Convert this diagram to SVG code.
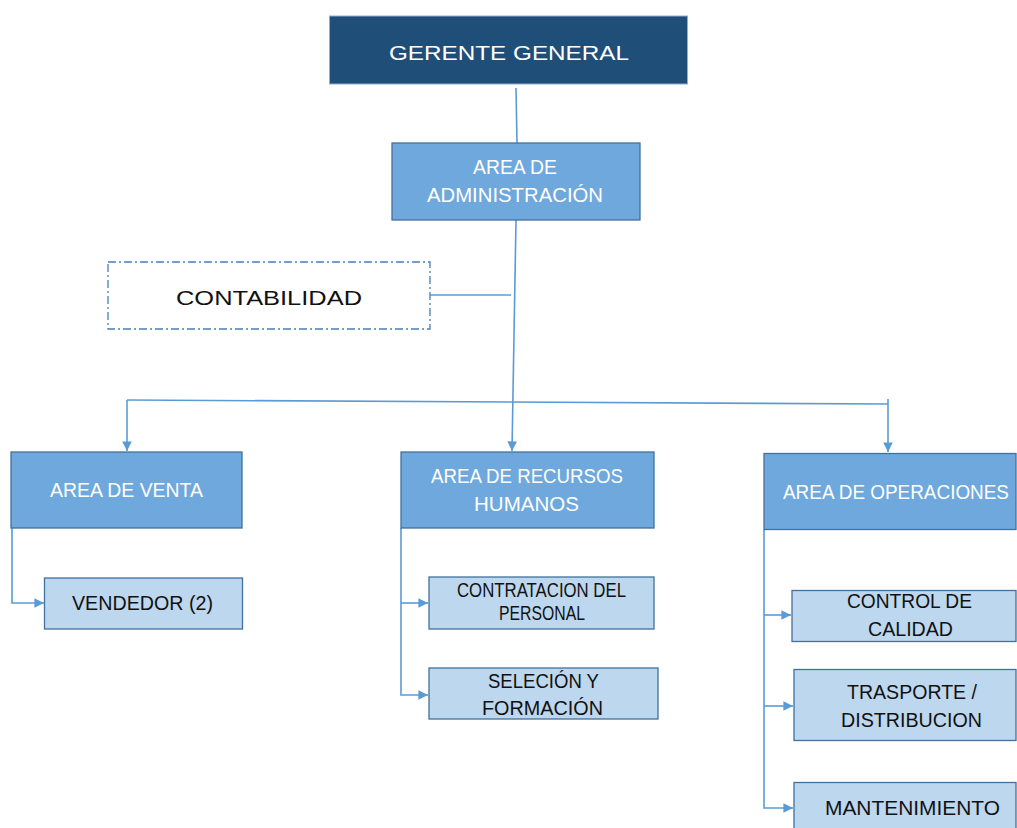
<svg xmlns="http://www.w3.org/2000/svg" width="1017" height="828" viewBox="0 0 1017 828">
<style>
.ln{fill:none;stroke:#5B9BD5;stroke-width:1.6}
.dark{fill:#1F4E79;stroke:#8FAFD0;stroke-width:1}
.mid{fill:#6FA8DC;stroke:#41719C;stroke-width:1.3}
.lt{fill:#BDD7EE;stroke:#41719C;stroke-width:1.3}
.dash{fill:#fff;stroke:#4A7EB5;stroke-width:1.3;stroke-dasharray:8 3 2 3}
text{font-family:"Liberation Sans",Arial,sans-serif;text-anchor:middle}
.w{fill:#fff;font-size:20px}
.k{fill:#111;font-size:20px}
</style>
<defs>
<marker id="ar" viewBox="0 0 10 10" refX="10" refY="5" markerWidth="6" markerHeight="6" markerUnits="strokeWidth" orient="auto">
<path d="M0,0 L10,5 L0,10 z" fill="#5B9BD5"/>
</marker>
</defs>
<rect width="1017" height="828" fill="#fff"/>
<g id="connectors">
<line class="ln" x1="516" y1="88" x2="517" y2="143"/>
<line class="ln" x1="516" y1="220" x2="512" y2="451" marker-end="url(#ar)"/>
<line class="ln" x1="430" y1="295" x2="511" y2="295"/>
<line class="ln" x1="127" y1="400" x2="888" y2="404"/>
<line class="ln" x1="127" y1="400" x2="127" y2="451" marker-end="url(#ar)"/>
<line class="ln" x1="888" y1="399" x2="888" y2="452" marker-end="url(#ar)"/>
<polyline class="ln" points="12,528 12,603 44,603" marker-end="url(#ar)"/>
<polyline class="ln" points="401,528 401,695 428,695" marker-end="url(#ar)"/>
<line class="ln" x1="401" y1="603" x2="428" y2="603" marker-end="url(#ar)"/>
<polyline class="ln" points="764,530 764,808 793,808" marker-end="url(#ar)"/>
<line class="ln" x1="764" y1="615" x2="791" y2="615" marker-end="url(#ar)"/>
<line class="ln" x1="764" y1="706" x2="793" y2="706" marker-end="url(#ar)"/>
</g>
<g id="gerente">
<rect class="dark" x="329.5" y="16" width="358" height="68"/>
<text class="w" x="509" y="60" font-size="28" textLength="240" lengthAdjust="spacingAndGlyphs">GERENTE GENERAL</text>
</g>
<g id="administracion">
<rect class="mid" x="392" y="143" width="248" height="77"/>
<text class="w" x="515" y="174" textLength="84" lengthAdjust="spacingAndGlyphs">AREA DE</text>
<text class="w" x="515" y="202" textLength="176" lengthAdjust="spacingAndGlyphs">ADMINISTRACIÓN</text>
</g>
<g id="contabilidad">
<rect class="dash" x="108" y="262" width="322" height="67"/>
<text class="k" x="269" y="305" font-size="26" textLength="186" lengthAdjust="spacingAndGlyphs">CONTABILIDAD</text>
</g>
<g id="venta">
<rect class="mid" x="11" y="452" width="231" height="76"/>
<text class="w" x="126.5" y="497" textLength="153" lengthAdjust="spacingAndGlyphs">AREA DE VENTA</text>
</g>
<g id="vendedor">
<rect class="lt" x="44.5" y="578" width="198" height="51"/>
<text class="k" x="142.5" y="610" textLength="141" lengthAdjust="spacingAndGlyphs">VENDEDOR (2)</text>
</g>
<g id="rrhh">
<rect class="mid" x="401" y="452" width="253" height="76"/>
<text class="w" x="527" y="483" textLength="192" lengthAdjust="spacingAndGlyphs">AREA DE RECURSOS</text>
<text class="w" x="526.5" y="511" textLength="105" lengthAdjust="spacingAndGlyphs">HUMANOS</text>
</g>
<g id="contratacion">
<rect class="lt" x="429" y="577" width="225" height="52"/>
<text class="k" x="541.5" y="597" font-size="17" textLength="169" lengthAdjust="spacingAndGlyphs">CONTRATACION DEL</text>
<text class="k" x="542" y="620" font-size="17" textLength="86" lengthAdjust="spacingAndGlyphs">PERSONAL</text>
</g>
<g id="seleccion">
<rect class="lt" x="429" y="668" width="229" height="51"/>
<text class="k" x="543.5" y="688" textLength="111" lengthAdjust="spacingAndGlyphs">SELECIÓN Y</text>
<text class="k" x="542.5" y="715" textLength="121" lengthAdjust="spacingAndGlyphs">FORMACIÓN</text>
</g>
<g id="operaciones">
<rect class="mid" x="764" y="453.5" width="252" height="76"/>
<text class="w" x="896" y="499" textLength="226" lengthAdjust="spacingAndGlyphs">AREA DE OPERACIONES</text>
</g>
<g id="control">
<rect class="lt" x="792" y="590.5" width="224" height="51"/>
<text class="k" x="909.5" y="608" textLength="125" lengthAdjust="spacingAndGlyphs">CONTROL DE</text>
<text class="k" x="910.5" y="636" textLength="85" lengthAdjust="spacingAndGlyphs">CALIDAD</text>
</g>
<g id="trasporte">
<rect class="lt" x="794" y="669.5" width="222" height="71"/>
<text class="k" x="912" y="699" textLength="130" lengthAdjust="spacingAndGlyphs">TRASPORTE /</text>
<text class="k" x="911.5" y="727" textLength="141" lengthAdjust="spacingAndGlyphs">DISTRIBUCION</text>
</g>
<g id="mantenimiento">
<rect class="lt" x="794" y="782.5" width="222" height="60"/>
<text class="k" x="912.5" y="815" textLength="175" lengthAdjust="spacingAndGlyphs">MANTENIMIENTO</text>
</g>
</svg>
